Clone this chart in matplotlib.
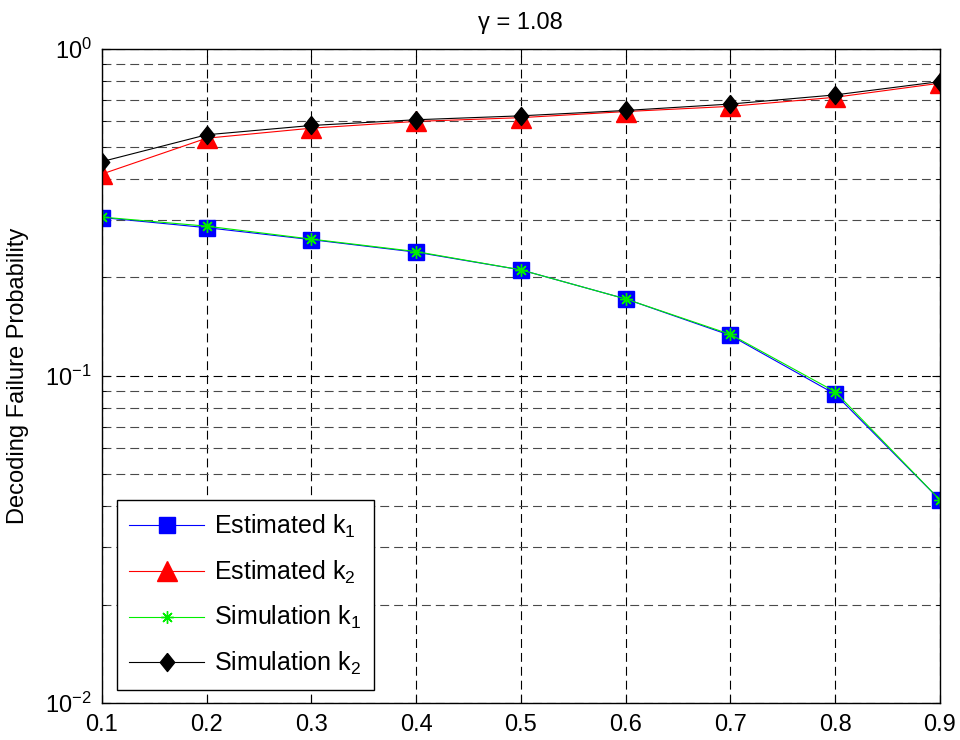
import numpy as np
import matplotlib.pyplot as plt
from matplotlib.ticker import LogLocator, NullFormatter

plt.rcParams['font.family'] = ['Liberation Sans', 'DejaVu Sans']
plt.rcParams['mathtext.fontset'] = 'custom'
plt.rcParams['mathtext.rm'] = 'Liberation Sans'
plt.rcParams['mathtext.it'] = 'Liberation Sans'
plt.rcParams['mathtext.default'] = 'regular'

x = [0.1, 0.2, 0.3, 0.4, 0.5, 0.6, 0.7, 0.8, 0.9]
est_k1 = [0.305, 0.284, 0.261, 0.239, 0.211, 0.172, 0.133, 0.088, 0.0418]
est_k2 = [0.414, 0.533, 0.572, 0.600, 0.616, 0.643, 0.667, 0.711, 0.785]
sim_k1 = [0.306, 0.287, 0.262, 0.240, 0.211, 0.172, 0.134, 0.0895, 0.0418]
sim_k2 = [0.452, 0.546, 0.583, 0.607, 0.624, 0.648, 0.678, 0.723, 0.794]

# MATLAB style diamond, a bit taller than wide
diamond = [(0, 1), (0.8, 0), (0, -1), (-0.8, 0), (0, 1)]

fig = plt.figure(figsize=(9.6, 7.4), dpi=100)
ax = fig.add_axes([0.106, 0.05, 0.873, 0.884])

ax.plot(x, est_k1, color='blue', lw=0.8, marker='s', ms=11, mfc='blue', mec='blue', label='Estimated k$_1$')
ax.plot(x, est_k2, color='red', lw=0.8, marker='^', ms=14, mfc='red', mec='red', label='Estimated k$_2$')
ax.plot(x, sim_k1, color='#00ee00', lw=0.8, marker=(8, 2, 0), ms=9, mew=1.0, mfc='#00ee00', mec='#00ee00',
        label='Simulation k$_1$')
ax.plot(x, sim_k2, color='black', lw=0.8, marker=diamond, ms=13, mfc='black', mec='black', label='Simulation k$_2$')

ax.set_yscale('log')
ax.set_xlim(0.1, 0.9)
ax.set_ylim(1e-2, 1)
ax.set_xticks(x)
ax.set_xticklabels(['0.1', '0.2', '0.3', '0.4', '0.5', '0.6', '0.7', '0.8', '0.9'])
ax.yaxis.set_major_locator(LogLocator(base=10))
ax.yaxis.set_minor_locator(LogLocator(base=10, subs=np.arange(2, 10)))
ax.yaxis.set_minor_formatter(NullFormatter())

ax.grid(True, which='major', color='black', ls=(0, (8, 4.5)), lw=0.8)
ax.grid(True, which='minor', axis='y', color='#4a4a4a', ls=(0, (8, 4.5)), lw=0.8)
ax.tick_params(which='both', direction='in', top=True, right=True, labelsize=17)
ax.tick_params(axis='x', which='major', length=6, pad=8)
ax.tick_params(axis='y', which='major', length=6, pad=7)
ax.tick_params(which='minor', length=3)
for s in ax.spines.values():
    s.set_linewidth(1.0)

ax.set_title('γ = 1.08', fontsize=17, pad=14)
ax.set_ylabel('Decoding Failure Probability', fontsize=17, labelpad=12)

leg = ax.legend(loc='lower left', bbox_to_anchor=(0.018, 0.02), borderaxespad=0, fontsize=18,
                handlelength=3.0, fancybox=False, edgecolor='black', framealpha=1, borderpad=0.5,
                labelspacing=0.75, handletextpad=0.4)
leg.get_frame().set_linewidth(1.0)

fig.savefig('out.png', dpi=100)
